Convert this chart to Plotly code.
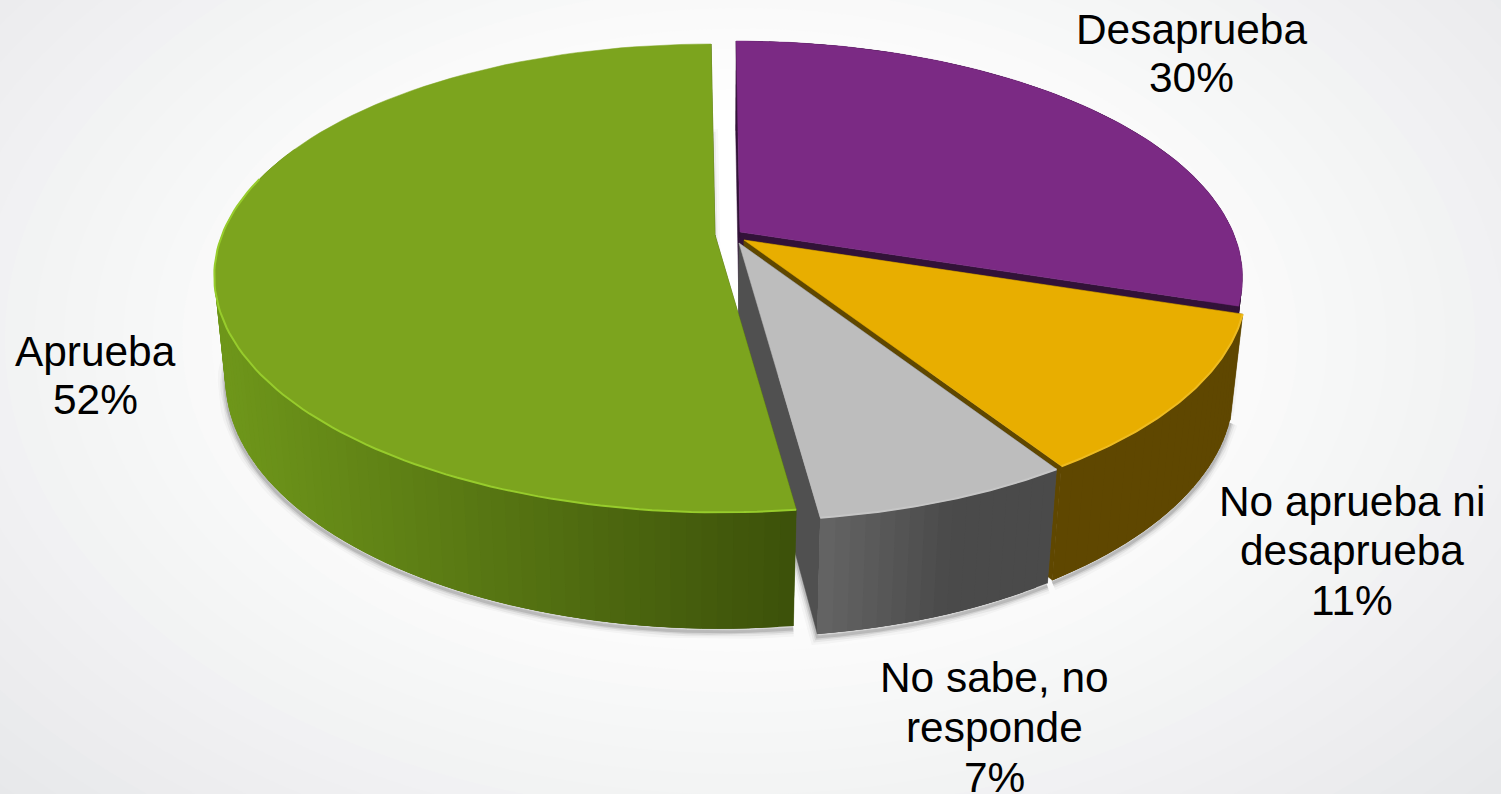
import math
import plotly.graph_objects as go

# ---- data ----
categories = ["Desaprueba", "No aprueba ni desaprueba", "No sabe, no responde", "Aprueba"]
values = [30, 11, 7, 52]
label_lines = [["Desaprueba"], ["No aprueba ni", "desaprueba"], ["No sabe, no", "responde"], ["Aprueba"]]

# ---- style ----
top_colors = ["#7b2a84", "#e8ae00", "#bdbdbd", "#7ca41e"]
cut_colors = ["#321238", "#5f4700", "#505050", "#3e540a"]
wall_left = [(50, 18, 56), (95, 71, 0), (102, 102, 102), (110, 150, 26)]
wall_right = [(50, 18, 56), (95, 71, 0), (74, 74, 74), (61, 82, 10)]
wall_span = [(700, 1250), (1040, 1240), (818, 960), (225, 795)]
rim_colors = [None, "#eebb20", "#c6c6c6", "#97cc2c"]
apex = [(740, 232), (744, 240), (739, 243), (715, 235)]
label_pos = [(1191, 29), (1352, 501), (994, 677), (95, 351)]
label_step = [48, 49.5, 50, 48]
FONT = dict(family="Liberation Sans, Arial, sans-serif", size=42.4, color="#000000")

# perspective model of the disc
A, B, C, K, M, PX = 493.0, 226.2, 104.0, 0.1845, 0.023, -25.0


def project(slice_i, r, deg, low):
    t = math.radians(deg)
    X, Y = r * math.sin(t), r * math.cos(t)
    w = 1 + K * Y + (M if low else 0)
    u = A * X / w + PX * (1 - 1 / w)
    v = (-B * Y + (C if low else 0)) / w
    return apex[slice_i][0] + u, apex[slice_i][1] + v


def arc(slice_i, a0, a1, low, n=90):
    return [project(slice_i, 1, a0 + (a1 - a0) * j / n, low) for j in range(n + 1)]


def poly(fig, pts, color, lw=0.5):
    xs = [p[0] for p in pts] + [pts[0][0]]
    ys = [p[1] for p in pts] + [pts[0][1]]
    fig.add_trace(go.Scatter(x=xs, y=ys, mode="lines", fill="toself", fillcolor=color,
                             line=dict(color=color, width=lw), hoverinfo="skip", showlegend=False))


def stroke(fig, pts, color, width):
    fig.add_trace(go.Scatter(x=[p[0] for p in pts], y=[p[1] for p in pts], mode="lines",
                             line=dict(color=color, width=width), hoverinfo="skip", showlegend=False))


fig = go.Figure()

# slice angles, clockwise from the top
edges = [0.0]
for val in values:
    edges.append(edges[-1] + val * 3.6)

# soft shadow under the disc
for width, alpha in [(15, 0.03), (10, 0.06), (6, 0.1), (3, 0.15)]:
    col = f"rgba(40,40,40,{alpha})"
    for i in range(4):
        a0, a1 = edges[i], edges[i + 1]
        pts = arc(i, a0, a1, True)
        if i == 3:
            pts = [project(i, 0, 0, True)] + arc(i, a1, a0, True)
        if i == 2:
            pts = pts + [project(i, 0, 0, True)]
        stroke(fig, [(x, y + 3) for x, y in pts], col, width)

# slices, painted from back to front
for i in [0, 1, 2, 3]:
    a0, a1 = edges[i], edges[i + 1]
    # cut faces
    for ang in (a0, a1):
        poly(fig, [project(i, 0, 0, False), project(i, 1, ang, False),
                   project(i, 1, ang, True), project(i, 0, 0, True)], cut_colors[i])
    # outer wall in strips; every strip reaches under the next one, so no seams show
    n = int(round((a1 - a0) / 1.5))
    for j in range(n):
        d0 = a0 + (a1 - a0) * j / n
        d1 = min(a1, a0 + (a1 - a0) * (j + 3) / n)
        if math.cos(math.radians(d0)) > 0.35 and i == 3:
            continue
        xm = project(i, 1, d0, False)[0]
        f = min(1, max(0, (xm - wall_span[i][0]) / (wall_span[i][1] - wall_span[i][0])))
        rgb = tuple(round(wall_left[i][c] + (wall_right[i][c] - wall_left[i][c]) * f) for c in range(3))
        poly(fig, [project(i, 1, d0, False), project(i, 1, d1, False),
                   project(i, 1, d1, True), project(i, 1, d0, True)],
             f"rgb({rgb[0]},{rgb[1]},{rgb[2]})", 0)
    # top face
    poly(fig, [project(i, 0, 0, False)] + arc(i, a0, a1, False), top_colors[i])
    # bright bevel on the front rim
    if rim_colors[i]:
        lo = max(a0, 95)
        hi = min(a1, 285)
        stroke(fig, arc(i, lo, hi, False), rim_colors[i], 2)

# labels: one annotation per line so that the line spacing can be held
annotations = []
for i, cat in enumerate(categories):
    lines = label_lines[i] + [f"{values[i]}%"]
    x0, y0 = label_pos[i]
    for k, line in enumerate(lines):
        annotations.append(dict(x=x0, y=y0 + k * label_step[i], text=line, showarrow=False,
                                xanchor="center", yanchor="middle", font=FONT, xref="x", yref="y"))

# background glow: white in the middle, pale grey towards the corners
shapes = []
STEPS = 26
for s in range(STEPS):
    f = s / (STEPS - 1)
    rx, ry = 1120 * (1 - f) + 380 * f, 740 * (1 - f) + 230 * f
    g = 228 + (255 - 228) * f
    shapes.append(dict(type="circle", xref="x", yref="y", layer="below",
                       x0=740 - rx, x1=740 + rx, y0=340 - ry, y1=340 + ry,
                       fillcolor=f"rgb({round(g)},{round(g + 1 - f)},{round(g + 3 * (1 - f))})",
                       line=dict(width=0)))

fig.update_layout(
    width=1501, height=794, margin=dict(l=0, r=0, t=0, b=0),
    paper_bgcolor="#e6e7ea", plot_bgcolor="rgba(0,0,0,0)", showlegend=False,
    xaxis=dict(range=[0, 1501], visible=False, fixedrange=True),
    yaxis=dict(range=[794, 0], visible=False, fixedrange=True),
    annotations=annotations, shapes=shapes,
)
fig.write_html("out.html", config=dict(displayModeBar=False),
               post_script="document.body.style.margin='0';document.body.style.overflow='hidden';")
